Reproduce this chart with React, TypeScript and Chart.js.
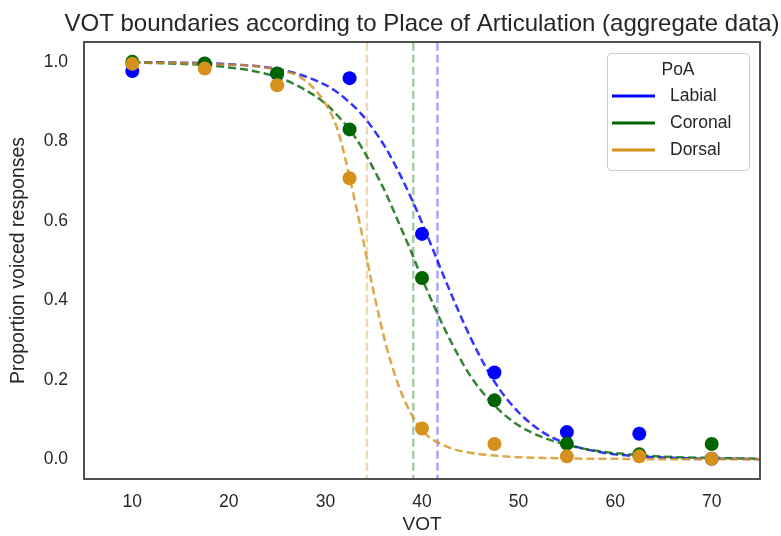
import React, { useEffect, useRef } from "react";
import { Chart, registerables } from "chart.js";

Chart.register(...registerables);

const TITLE = "VOT boundaries according to Place of Articulation (aggregate data)";
const X_LABEL = "VOT";
const Y_LABEL = "Proportion voiced responses";
const LEGEND_TITLE = "PoA";
const SERIES_NAMES = ["Labial", "Coronal", "Dorsal"];
const SERIES_RGB = ["0,0,255", "0,100,0", "212,145,28"];

// observed proportions
const VOT_STEPS = [10, 17.5, 25, 32.5, 40, 47.5, 55, 62.5, 70];
const LABIAL_PROP = [0.977, 0.995, 0.97, 0.959, 0.567, 0.218, 0.068, 0.064, 0.001];
const CORONAL_PROP = [1.0, 0.996, 0.971, 0.83, 0.456, 0.148, 0.039, 0.012, 0.038];
const DORSAL_PROP = [0.995, 0.983, 0.941, 0.707, 0.077, 0.038, 0.007, 0.007, 0.001];

// fitted curves
const CURVE_X = [10, 12.5, 15, 17.5, 20, 22.5, 25, 27.5, 30, 31.25, 32.5, 33.75, 35, 36.25, 37.5, 38.75, 40, 42.5, 45, 47.5, 50, 52.5, 55, 57.5, 60, 62.5, 65, 67.5, 70, 72.5, 75];
const LABIAL_FIT = [0.999, 0.999, 0.998, 0.997, 0.994, 0.99, 0.982, 0.967, 0.942, 0.923, 0.898, 0.868, 0.829, 0.783, 0.727, 0.664, 0.595, 0.446, 0.307, 0.195, 0.118, 0.068, 0.039, 0.022, 0.012, 0.007, 0.004, 0.002, 0.001, 0.001, 0.0];
const CORONAL_FIT = [0.998, 0.997, 0.995, 0.992, 0.986, 0.977, 0.962, 0.935, 0.895, 0.865, 0.83, 0.785, 0.73, 0.67, 0.6, 0.53, 0.455, 0.32, 0.21, 0.135, 0.085, 0.055, 0.036, 0.023, 0.015, 0.01, 0.006, 0.004, 0.003, 0.002, 0.001];
const DORSAL_FIT = [0.999, 0.998, 0.997, 0.995, 0.993, 0.99, 0.98, 0.96, 0.895, 0.83, 0.71, 0.57, 0.42, 0.29, 0.19, 0.12, 0.072, 0.032, 0.016, 0.009, 0.005, 0.003, 0.002, 0.001, 0.001, 0.0, 0.0, 0.0, 0.0, 0.0, 0.0];

// category boundaries (50% points)
const BOUNDARIES = [41.6, 39.1, 34.3];

const X_TICKS = [10, 20, 30, 40, 50, 60, 70];
const Y_TICKS = [0, 0.2, 0.4, 0.6, 0.8, 1.0];
const X_RANGE = [5, 75];
const Y_RANGE = [-0.05, 1.05];

const FONT = "'Liberation Sans', Arial, sans-serif";
const TEXT = "#262626";

const W = 781;
const H = 536;

export default function App() {
  const ref = useRef<HTMLCanvasElement | null>(null);

  useEffect(() => {
    if (!ref.current) return;
    const props = [LABIAL_PROP, CORONAL_PROP, DORSAL_PROP];
    const fits = [LABIAL_FIT, CORONAL_FIT, DORSAL_FIT];
    const pts = (xs: number[], ys: number[]) => xs.map((x, i) => ({ x, y: ys[i] }));

    // dataset index 0 is drawn on top: Dorsal over Coronal over Labial
    const pointSets = [2, 1, 0].map((i) => ({
      label: SERIES_NAMES[i] + " points",
      data: pts(VOT_STEPS, props[i]),
      showLine: false,
      pointRadius: 7,
      pointHoverRadius: 7,
      pointBorderWidth: 0,
      pointBackgroundColor: `rgb(${SERIES_RGB[i]})`,
      backgroundColor: `rgb(${SERIES_RGB[i]})`,
      borderColor: `rgb(${SERIES_RGB[i]})`,
    }));
    const curveSets = [2, 1, 0].map((i) => ({
      label: SERIES_NAMES[i] + " fit",
      data: pts(CURVE_X, fits[i]),
      showLine: true,
      pointRadius: 0,
      borderWidth: 2.5,
      borderDash: [8, 4],
      borderColor: `rgba(${SERIES_RGB[i]},0.8)`,
      backgroundColor: `rgba(${SERIES_RGB[i]},0.8)`,
      cubicInterpolationMode: "monotone" as const,
      fill: false,
    }));
    const boundarySets = [2, 1, 0].map((i) => ({
      label: SERIES_NAMES[i] + " boundary",
      data: [
        { x: BOUNDARIES[i], y: Y_RANGE[0] - 0.1 },
        { x: BOUNDARIES[i], y: Y_RANGE[1] + 0.1 },
      ],
      showLine: true,
      pointRadius: 0,
      borderWidth: 2.5,
      borderDash: [8, 4],
      borderColor: `rgba(${SERIES_RGB[i]},0.35)`,
      backgroundColor: `rgba(${SERIES_RGB[i]},0.35)`,
      fill: false,
    }));

    const framePlugin = {
      id: "frameAndLegend",
      afterDraw(chart: any) {
        const ctx = chart.ctx as CanvasRenderingContext2D;
        const ca = chart.chartArea;
        ctx.save();
        ctx.strokeStyle = "#3d3d3d";
        ctx.lineWidth = 1.8;
        ctx.strokeRect(ca.left, ca.top, ca.right - ca.left, ca.bottom - ca.top);

        // title centred over the plot area
        ctx.fillStyle = TEXT;
        ctx.font = `24px ${FONT}`;
        ctx.textAlign = "center";
        ctx.textBaseline = "middle";
        ctx.fillText(TITLE, (ca.left + ca.right) / 2, ca.top - 18);

        // legend
        const bw = 142;
        const bh = 117;
        const left = ca.right - 11 - bw;
        const top = ca.top + 11;
        ctx.beginPath();
        (ctx as any).roundRect(left + 0.5, top + 0.5, bw, bh, 4);
        ctx.fillStyle = "rgba(255,255,255,0.8)";
        ctx.fill();
        ctx.strokeStyle = "#cccccc";
        ctx.lineWidth = 1;
        ctx.stroke();

        ctx.fillStyle = TEXT;
        ctx.font = `17.5px ${FONT}`;
        ctx.textBaseline = "middle";
        ctx.textAlign = "center";
        ctx.fillText(LEGEND_TITLE, left + bw / 2, top + 17);
        ctx.textAlign = "left";
        SERIES_NAMES.forEach((name, i) => {
          const y = top + 43 + i * 27;
          ctx.strokeStyle = `rgb(${SERIES_RGB[i]})`;
          ctx.lineWidth = 3;
          ctx.setLineDash([]);
          ctx.beginPath();
          ctx.moveTo(left + 5, y);
          ctx.lineTo(left + 48, y);
          ctx.stroke();
          ctx.fillStyle = TEXT;
          ctx.fillText(name, left + 63, y);
        });
        ctx.restore();
      },
    };

    const chart = new Chart(ref.current, {
      type: "scatter",
      data: { datasets: [...pointSets, ...curveSets, ...boundarySets] as any },
      options: {
        animation: false,
        responsive: false,
        devicePixelRatio: 1,
        layout: { padding: { left: 0, right: 21, top: 42, bottom: 0 } },
        plugins: {
          legend: { display: false },
          tooltip: { enabled: false },
          title: { display: false },
        },
        scales: {
          x: {
            type: "linear",
            min: X_RANGE[0],
            max: X_RANGE[1],
            grid: { display: false, drawTicks: false },
            border: { display: false },
            afterBuildTicks: (scale: any) => {
              scale.ticks = X_TICKS.map((v) => ({ value: v }));
            },
            afterFit: (scale: any) => {
              scale.height = 57;
            },
            ticks: {
              color: TEXT,
              padding: 13,
              font: { family: FONT, size: 17.5 },
              callback: (v: any) => String(v),
            },
            title: {
              display: true,
              text: X_LABEL,
              color: TEXT,
              font: { family: FONT, size: 19 },
              padding: { top: 0, bottom: 0 },
            },
          },
          y: {
            type: "linear",
            min: Y_RANGE[0],
            max: Y_RANGE[1],
            grid: { display: false, drawTicks: false },
            border: { display: false },
            afterBuildTicks: (scale: any) => {
              scale.ticks = Y_TICKS.map((v) => ({ value: v }));
            },
            afterFit: (scale: any) => {
              scale.width = 84;
            },
            ticks: {
              color: TEXT,
              padding: 16,
              font: { family: FONT, size: 17.5 },
              callback: (v: any) => Number(v).toFixed(1),
            },
            title: {
              display: true,
              text: Y_LABEL,
              color: TEXT,
              font: { family: FONT, size: 19.5 },
              padding: { top: 7, bottom: 0 },
            },
          },
        },
      } as any,
      plugins: [framePlugin],
    });

    return () => chart.destroy();
  }, []);

  return (
    <div style={{ position: "absolute", left: 0, top: 0, width: W, height: H, background: "#fff" }}>
      <canvas ref={ref} width={W} height={H} style={{ width: W, height: H, display: "block" }} />
    </div>
  );
}
